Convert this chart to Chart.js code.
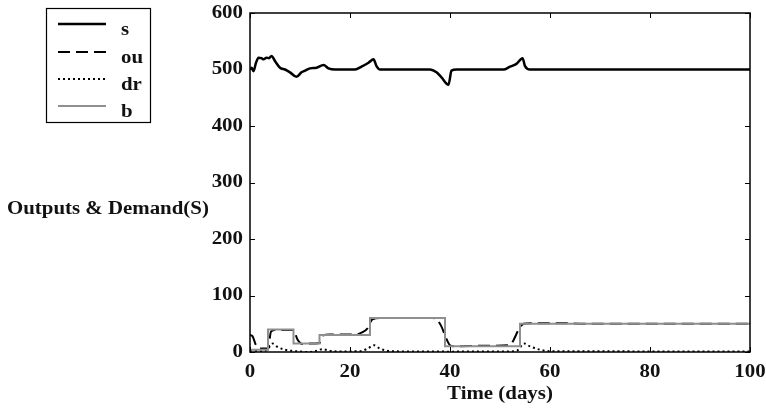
<!DOCTYPE html>
<html>
<head>
<meta charset="utf-8">
<script src="https://cdn.jsdelivr.net/npm/chart.js@4.4.1/dist/chart.umd.min.js"></script>
<style>
  html, body { margin: 0; padding: 0; background: #fff; }
  #wrap { width: 766px; height: 409px; }
</style>
</head>
<body>
<div id="wrap"><canvas id="outChart" width="766" height="409"></canvas></div>
<script>
// time axis (days) and series values
var sDays = [0, 0.3, 0.7, 1.2, 1.7, 2.3, 2.7, 3.3, 3.8, 4.3, 5, 6, 7, 8, 9.3, 10.3, 11, 12, 13.3, 14.7, 15.7, 17, 21, 22.3, 23.7, 24.7, 25.3, 26, 36, 37.3, 38.3, 39.7, 40.3, 41.3, 50.7, 52, 53.3, 54.5, 55, 56, 100];
var sVals = [500, 503, 497, 512, 521, 520, 518, 521, 520, 524, 515, 503, 500, 495, 487, 495, 498, 502, 503, 508, 502, 500, 500, 505, 512, 518, 506, 500, 500, 495, 486, 473, 498, 500, 500, 505, 510, 520, 506, 500, 500];

var ouDays = [0, 0.5, 1.2, 2, 3.6, 4.2, 5, 8.7, 9.5, 10.5, 12, 13.9, 14.5, 16, 21, 22.5, 23.5, 24.5, 26, 36.5, 37.3, 38.3, 39.2, 40, 41, 47, 52, 52.7, 53.7, 54.7, 56, 62, 66, 100];
var ouVals = [30, 28, 12, 6, 6, 36, 39, 39, 22, 14, 15, 16, 29, 31, 31, 35, 42, 58, 60, 60, 58, 45, 25, 12, 10, 11, 12, 21, 39, 50, 51, 51, 50, 50];

var drDays = [0, 1, 2, 3, 3.8, 4.5, 5.5, 7, 9, 10.5, 11.5, 13, 14.5, 16, 18, 22, 23.5, 24.8, 26, 28, 32, 38, 39.5, 40.2, 41, 52, 53.5, 54.8, 56, 58, 60, 100];
var drVals = [3, 2, 1.5, 2, 8, 15, 9, 4, 1.5, 0.5, 0, 1.5, 5, 2, 1, 1.5, 6, 12, 6, 1.5, 1, 1, 0.5, 0, 1, 1, 3, 15, 10, 4, 1.5, 1];

var bDays = [0, 3.6, 8.7, 13.9, 24, 39, 54, 100];
var bVals = [4, 40, 15, 30, 60, 10, 50, 50];

var seriesNames = ['s', 'ou', 'dr', 'b'];
var xTicks = [0, 20, 40, 60, 80, 100];
var yTicks = [0, 100, 200, 300, 400, 500, 600];
var xTitle = 'Time (days)';
var yTitle = 'Outputs & Demand(S)';

function toPoints(days, vals) {
    return days.map(function (d, i) { return { x: d, y: vals[i] }; });
}

var serif = "'Liberation Serif', 'Times New Roman', serif";
var textFont = 'bold 18px ' + serif;
var widen = 1.16; // the lettering is set a little wide

// draws text stretched horizontally, anchored at x by align
function wideText(ctx, text, x, y, align) {
    var w = ctx.measureText(text).width * widen;
    var left = align === 'right' ? x - w : (align === 'center' ? x - w / 2 : x);
    ctx.save();
    ctx.translate(left, y);
    ctx.scale(widen, 1);
    ctx.textAlign = 'left';
    ctx.fillText(text, 0, 0);
    ctx.restore();
}

// box around the plot with inward ticks on all four sides, plus tick labels
var frameTicks = {
    id: 'frameTicks',
    afterDraw: function (chart) {
        var ctx = chart.ctx, a = chart.chartArea;
        var xs = chart.scales.x, ys = chart.scales.y;
        ctx.save();
        ctx.strokeStyle = '#000';
        ctx.lineWidth = 1.5;
        ctx.strokeRect(a.left, a.top, a.right - a.left, a.bottom - a.top);
        ctx.lineWidth = 1;
        ctx.beginPath();
        xTicks.forEach(function (v) {
            var px = Math.round(xs.getPixelForValue(v)) + 0.5;
            ctx.moveTo(px, a.bottom); ctx.lineTo(px, a.bottom - 5);
            ctx.moveTo(px, a.top); ctx.lineTo(px, a.top + 5);
        });
        yTicks.forEach(function (v) {
            var py = Math.round(ys.getPixelForValue(v)) + 0.5;
            ctx.moveTo(a.left, py); ctx.lineTo(a.left + 5, py);
            ctx.moveTo(a.right, py); ctx.lineTo(a.right - 5, py);
        });
        ctx.stroke();

        ctx.fillStyle = '#111';
        ctx.font = textFont;
        ctx.textBaseline = 'middle';
        xTicks.forEach(function (v) {
            wideText(ctx, String(v), xs.getPixelForValue(v), a.bottom + 20, 'center');
        });
        yTicks.forEach(function (v) {
            wideText(ctx, String(v), a.left - 7, ys.getPixelForValue(v), 'right');
        });
        wideText(ctx, xTitle, (a.left + a.right) / 2, a.bottom + 42, 'center');
        ctx.restore();
    }
};

// horizontal y-axis caption and boxed legend in the top-left corner
var sideText = {
    id: 'sideText',
    afterDraw: function (chart) {
        var ctx = chart.ctx;
        ctx.save();
        ctx.fillStyle = '#111';
        ctx.font = textFont;
        ctx.textBaseline = 'middle';
        wideText(ctx, yTitle, 7, 209, 'left');

        ctx.strokeStyle = '#000';
        ctx.lineWidth = 1.2;
        ctx.strokeRect(46.5, 8.5, 104, 114);

        var rows = [24, 52, 79, 106];
        chart.data.datasets.forEach(function (ds, i) {
            var y = rows[i];
            ctx.beginPath();
            ctx.strokeStyle = ds.borderColor;
            ctx.lineWidth = ds.borderWidth;
            ctx.setLineDash(ds.borderDash || []);
            ctx.moveTo(58, y);
            ctx.lineTo(106, y);
            ctx.stroke();
            ctx.setLineDash([]);
            ctx.fillStyle = '#111';
            wideText(ctx, ds.label, 121, y + 6, 'left');
        });
        ctx.restore();
    }
};

var ctx = document.getElementById('outChart').getContext('2d');

new Chart(ctx, {
    type: 'line',
    data: {
        datasets: [{
            label: seriesNames[0],
            data: toPoints(sDays, sVals),
            borderColor: '#000',
            borderWidth: 2.5,
            cubicInterpolationMode: 'monotone',
            order: 0
        }, {
            label: seriesNames[1],
            data: toPoints(ouDays, ouVals),
            borderColor: '#000',
            borderWidth: 2,
            borderDash: [12, 6],
            cubicInterpolationMode: 'monotone',
            order: 2
        }, {
            label: seriesNames[2],
            data: toPoints(drDays, drVals),
            borderColor: '#000',
            borderWidth: 2,
            borderDash: [2, 3],
            cubicInterpolationMode: 'monotone',
            order: 3
        }, {
            label: seriesNames[3],
            data: toPoints(bDays, bVals),
            borderColor: '#8f8f8f',
            borderWidth: 2,
            stepped: 'before',
            order: 1
        }]
    },
    options: {
        responsive: false,
        animation: false,
        events: [],
        elements: { point: { radius: 0 } },
        layout: { padding: { top: 13, right: 16, left: 0, bottom: 0 } },
        scales: {
            x: {
                type: 'linear',
                min: 0,
                max: 100,
                afterFit: function (scale) { scale.height = 57; },
                grid: { display: false, drawTicks: false },
                border: { display: false },
                ticks: { display: false }
            },
            y: {
                min: 0,
                max: 600,
                afterFit: function (scale) { scale.width = 250; },
                grid: { display: false, drawTicks: false },
                border: { display: false },
                ticks: { display: false }
            }
        },
        plugins: {
            legend: { display: false },
            tooltip: { enabled: false }
        }
    },
    plugins: [frameTicks, sideText]
});
</script>
</body>
</html>
